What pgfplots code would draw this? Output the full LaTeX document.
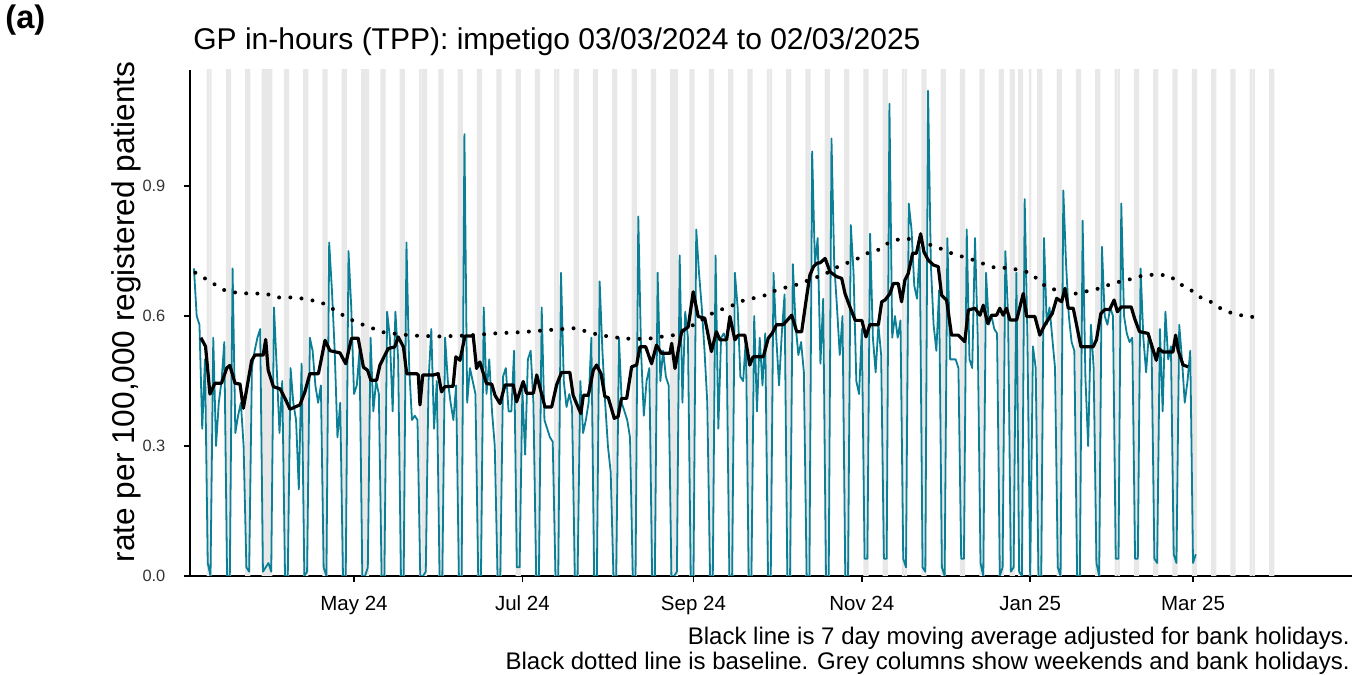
\documentclass[border=0pt]{standalone}
\usepackage{fontspec}
\setmainfont{Liberation Sans}
\usepackage{pgfplots}
\pgfplotsset{compat=1.18}
\definecolor{tealline}{HTML}{0B7F95}
\definecolor{greycol}{HTML}{E8E8E8}
\begin{document}
\begin{tikzpicture}
\useasboundingbox (-95pt,-49.5pt) rectangle (586pt,288pt);
\begin{axis}[
  at={(0,0)}, anchor=south west,
  scale only axis, width=581pt, height=253pt,
  xmin=-0.43, xmax=420.6, ymin=0, ymax=1.168,
  axis x line*=bottom, axis y line*=left,
  axis line style={-, line width=1.3pt, black},
  xtick={59,120,182,243,304,363},
  xticklabels={May 24,Jul 24,Sep 24,Nov 24,Jan 25,Mar 25},
  ytick={0,0.3,0.6,0.9},
  yticklabels={0.0,0.3,0.6,0.9},
  tick align=outside, major tick length=3pt,
  tick style={line width=0.8pt, black},
  xticklabel style={font=\fontsize{10.25}{12}\selectfont, yshift=-3.5pt},
  yticklabel style={font=\fontsize{8.2}{10}\selectfont, xshift=-5.8pt, text=black!80},
  clip=true,
]
% grey columns: weekends and bank holidays
\addplot[ybar, bar width=0.9, fill=greycol, draw=none] coordinates {
(6,1.2)(7,1.2)(13,1.2)(14,1.2)(20,1.2)(21,1.2)(26,1.2)(27,1.2)(28,1.2)(29,1.2)
(34,1.2)(35,1.2)(41,1.2)(42,1.2)(48,1.2)(49,1.2)(55,1.2)(56,1.2)(62,1.2)(63,1.2)(64,1.2)
(69,1.2)(70,1.2)(76,1.2)(77,1.2)(83,1.2)(84,1.2)(85,1.2)(90,1.2)(91,1.2)(97,1.2)(98,1.2)
(104,1.2)(105,1.2)(111,1.2)(112,1.2)(118,1.2)(119,1.2)(125,1.2)(126,1.2)(132,1.2)(133,1.2)
(139,1.2)(140,1.2)(146,1.2)(147,1.2)(153,1.2)(154,1.2)(160,1.2)(161,1.2)(167,1.2)(168,1.2)
(174,1.2)(175,1.2)(176,1.2)(181,1.2)(182,1.2)(188,1.2)(189,1.2)(195,1.2)(196,1.2)(202,1.2)(203,1.2)
(209,1.2)(210,1.2)(216,1.2)(217,1.2)(223,1.2)(224,1.2)(230,1.2)(231,1.2)(237,1.2)(238,1.2)
(244,1.2)(245,1.2)(251,1.2)(252,1.2)(258,1.2)(259,1.2)(265,1.2)(266,1.2)(272,1.2)(273,1.2)
(279,1.2)(280,1.2)(286,1.2)(287,1.2)(293,1.2)(294,1.2)(297,1.2)(298,1.2)(300,1.2)(301,1.2)
(304,1.2)(307,1.2)(308,1.2)(314,1.2)(315,1.2)(321,1.2)(322,1.2)(328,1.2)(329,1.2)
(335,1.2)(336,1.2)(342,1.2)(343,1.2)(349,1.2)(350,1.2)(356,1.2)(357,1.2)(363,1.2)(364,1.2)
(370,1.2)(371,1.2)(377,1.2)(378,1.2)(384,1.2)(385,1.2)(391,1.2)(392,1.2)
};
% daily rate
\addplot[tealline, line width=0.9pt, line join=round, mark=none] coordinates {
(1,0.71)(2,0.60)(3,0.58)(4,0.34)(5,0.50)(6,0.03)(7,0.00)
(8,0.55)(9,0.30)(10,0.40)(11,0.45)(12,0.54)(13,0.00)(14,0.00)
(15,0.71)(16,0.33)(17,0.37)(18,0.40)(19,0.30)(20,0.02)(21,0.01)
(22,0.48)(23,0.52)(24,0.55)(25,0.57)(26,0.01)(27,0.02)(28,0.03)
(29,0.01)(30,0.62)(31,0.48)(32,0.33)(33,0.45)(34,0.00)(35,0.00)
(36,0.48)(37,0.40)(38,0.36)(39,0.20)(40,0.49)(41,0.00)(42,0.01)
(43,0.55)(44,0.52)(45,0.44)(46,0.40)(47,0.44)(48,0.02)(49,0.00)
(50,0.77)(51,0.66)(52,0.52)(53,0.32)(54,0.40)(55,0.00)(56,0.00)
(57,0.75)(58,0.62)(59,0.42)(60,0.44)(61,0.52)(62,0.00)(63,0.00)
(64,0.02)(65,0.55)(66,0.38)(67,0.45)(68,0.42)(69,0.00)(70,0.00)
(71,0.61)(72,0.55)(73,0.38)(74,0.61)(75,0.50)(76,0.00)(77,0.00)
(78,0.77)(79,0.48)(80,0.36)(81,0.37)(82,0.36)(83,0.00)(84,0.00)
(85,0.01)(86,0.45)(87,0.57)(88,0.34)(89,0.45)(90,0.00)(91,0.00)
(92,0.55)(93,0.45)(94,0.40)(95,0.36)(96,0.44)(97,0.00)(98,0.00)
(99,1.02)(100,0.40)(101,0.48)(102,0.45)(103,0.42)(104,0.00)(105,0.00)
(106,0.62)(107,0.42)(108,0.50)(109,0.38)(110,0.30)(111,0.00)(112,0.00)
(113,0.46)(114,0.48)(115,0.38)(116,0.38)(117,0.52)(118,0.02)(119,0.02)
(120,0.43)(121,0.28)(122,0.50)(123,0.52)(124,0.40)(125,0.00)(126,0.00)
(127,0.62)(128,0.36)(129,0.34)(130,0.32)(131,0.31)(132,0.00)(133,0.00)
(134,0.70)(135,0.45)(136,0.39)(137,0.42)(138,0.39)(139,0.00)(140,0.00)
(141,0.45)(142,0.33)(143,0.36)(144,0.40)(145,0.55)(146,0.00)(147,0.00)
(148,0.68)(149,0.52)(150,0.40)(151,0.30)(152,0.24)(153,0.00)(154,0.00)
(155,0.55)(156,0.40)(157,0.38)(158,0.36)(159,0.32)(160,0.00)(161,0.00)
(162,0.83)(163,0.52)(164,0.37)(165,0.45)(166,0.48)(167,0.00)(168,0.00)
(169,0.70)(170,0.45)(171,0.52)(172,0.46)(173,0.44)(174,0.00)(175,0.00)
(176,0.01)(177,0.74)(178,0.40)(179,0.61)(180,0.55)(181,0.00)(182,0.00)
(183,0.80)(184,0.70)(185,0.62)(186,0.52)(187,0.40)(188,0.00)(189,0.00)
(190,0.74)(191,0.34)(192,0.55)(193,0.56)(194,0.54)(195,0.00)(196,0.00)
(197,0.70)(198,0.62)(199,0.46)(200,0.45)(201,0.55)(202,0.00)(203,0.00)
(204,0.60)(205,0.38)(206,0.55)(207,0.44)(208,0.56)(209,0.00)(210,0.00)
(211,0.70)(212,0.55)(213,0.44)(214,0.56)(215,0.65)(216,0.00)(217,0.00)
(218,0.72)(219,0.58)(220,0.51)(221,0.54)(222,0.47)(223,0.00)(224,0.00)
(225,0.98)(226,0.72)(227,0.78)(228,0.49)(229,0.64)(230,0.00)(231,0.00)
(232,1.01)(233,0.72)(234,0.62)(235,0.51)(236,0.60)(237,0.00)(238,0.00)
(239,0.81)(240,0.70)(241,0.45)(242,0.42)(243,0.57)(244,0.04)(245,0.04)
(246,0.79)(247,0.55)(248,0.47)(249,0.58)(250,0.51)(251,0.04)(252,0.04)
(253,1.09)(254,0.55)(255,0.60)(256,0.55)(257,0.59)(258,0.04)(259,0.02)
(260,0.86)(261,0.80)(262,0.67)(263,0.64)(264,0.76)(265,0.02)(266,0.01)
(267,1.12)(268,0.72)(269,0.58)(270,0.52)(271,0.66)(272,0.02)(273,0.00)
(274,0.78)(275,0.50)(276,0.50)(277,0.50)(278,0.48)(279,0.04)(280,0.04)
(281,0.80)(282,0.50)(283,0.48)(284,0.78)(285,0.55)(286,0.03)(287,0.00)
(288,0.70)(289,0.58)(290,0.60)(291,0.57)(292,0.56)(293,0.00)(294,0.02)
(295,0.75)(296,0.60)(297,0.01)(298,0.02)(299,0.70)(300,0.01)(301,0.00)
(302,0.87)(303,0.55)(304,0.00)(305,0.53)(306,0.48)(307,0.00)(308,0.00)
(309,0.78)(310,0.58)(311,0.62)(312,0.55)(313,0.48)(314,0.02)(315,0.00)
(316,0.89)(317,0.72)(318,0.60)(319,0.54)(320,0.52)(321,0.00)(322,0.00)
(323,0.82)(324,0.46)(325,0.30)(326,0.58)(327,0.48)(328,0.03)(329,0.00)
(330,0.76)(331,0.60)(332,0.58)(333,0.62)(334,0.60)(335,0.04)(336,0.04)
(337,0.86)(338,0.60)(339,0.56)(340,0.54)(341,0.55)(342,0.04)(343,0.04)
(344,0.71)(345,0.55)(346,0.47)(347,0.56)(348,0.52)(349,0.04)(350,0.03)
(351,0.57)(352,0.38)(353,0.61)(354,0.50)(355,0.53)(356,0.05)(357,0.03)
(358,0.58)(359,0.50)(360,0.40)(361,0.45)(362,0.52)(363,0.03)(364,0.05)
};
% 7 day moving average
\addplot[black, line width=1.6pt, line join=round, mark=none] coordinates {
(3.5,0.55)(5.2,0.53)(6.8,0.42)(8.6,0.445)(11,0.445)(12.9,0.48)(14,0.486)(15.9,0.445)
(17.7,0.443)(18.9,0.387)(21.9,0.497)(23.1,0.51)(26.1,0.51)(27,0.546)(27.9,0.475)(29.8,0.437)
(32.2,0.432)(34,0.41)(35.8,0.385)(39.4,0.395)(41.2,0.425)(43,0.467)(46.1,0.467)(48.5,0.544)
(50.3,0.52)(53.9,0.515)(56,0.49)(58.1,0.549)(60.5,0.549)(62.4,0.482)(63.9,0.475)(65.1,0.452)
(67.2,0.452)(68.4,0.487)(70.2,0.51)(71.4,0.525)(73.8,0.529)(75,0.552)(76.9,0.529)(78.1,0.467)
(81.7,0.467)(82.3,0.464)(82.9,0.395)(83.9,0.464)(87.7,0.464)(89.5,0.467)(90.7,0.425)(91.9,0.437)
(94.9,0.438)(95.9,0.506)(97.4,0.498)(99.2,0.554)(102.2,0.554)(103.4,0.479)(104.6,0.494)(107,0.444)
(108.9,0.443)(110.1,0.417)(111.9,0.398)(113.7,0.441)(116.7,0.441)(117.9,0.402)(120.3,0.449)(121.5,0.422)
(124,0.422)(125.2,0.464)(128.2,0.39)(130.6,0.39)(132.4,0.441)(134.2,0.47)(137.2,0.47)(138.4,0.417)
(139.5,0.40)(141.2,0.375)(142.1,0.417)(143.9,0.417)(145.7,0.475)(146.9,0.487)(148.5,0.467)(149.9,0.414)
(151.1,0.412)(153.3,0.364)(154.7,0.368)(155.9,0.41)(157.8,0.41)(159.6,0.483)(161.4,0.487)(162.6,0.529)
(164.7,0.529)(166.8,0.49)(168.6,0.533)(170.4,0.514)(173.5,0.514)(174.1,0.537)(175.3,0.479)(177.7,0.564)
(180.1,0.575)(181.9,0.656)(183.7,0.599)(186.1,0.595)(188.5,0.518)(190.3,0.564)(191.6,0.545)(194,0.545)
(195.2,0.599)(197,0.545)(198.2,0.556)(200.6,0.556)(202.4,0.487)(203.6,0.506)(207.3,0.506)(209.1,0.549)
(210.5,0.56)(212.1,0.58)(214.5,0.58)(217.6,0.602)(219.4,0.564)(221.2,0.564)(223,0.645)(224.2,0.695)
(225.5,0.714)(226.7,0.722)(227.9,0.723)(229.7,0.733)(231.5,0.702)(233.9,0.691)(235.7,0.687)(236.9,0.652)
(238.7,0.621)(240.6,0.59)(243,0.59)(244.5,0.552)(245.9,0.58)(249,0.58)(250.2,0.633)(251.4,0.637)
(253.2,0.652)(254.4,0.675)(256.2,0.675)(257.4,0.633)(258.6,0.683)(259.8,0.698)(261.4,0.745)(262.8,0.745)
(264.3,0.79)(265.5,0.748)(267.1,0.729)(268.9,0.718)(270.7,0.714)(271.9,0.648)(273.7,0.637)(275.5,0.556)
(277.9,0.556)(280.3,0.541)(281.6,0.614)(284,0.618)(285.8,0.602)(287,0.625)(288.6,0.583)(290,0.602)
(291.8,0.602)(293,0.618)(294.2,0.602)(295.4,0.618)(296.7,0.591)(299.1,0.591)(301.5,0.652)(302.7,0.599)
(305.7,0.599)(307.5,0.556)(309.3,0.58)(312,0.606)(313.6,0.641)(315.4,0.633)(316.6,0.664)(317.8,0.618)
(319.6,0.618)(322.4,0.529)(326.8,0.529)(328,0.545)(329.6,0.606)(331,0.615)(332.8,0.615)(334.4,0.637)
(335.6,0.61)(337,0.621)(340.6,0.621)(341.8,0.595)(343.6,0.564)(346.7,0.56)(349.7,0.498)(350.6,0.525)
(352.1,0.517)(355.7,0.517)(356.7,0.556)(357.6,0.521)(359.4,0.487)(361.2,0.483)
};
% baseline
\addplot[black, line width=2pt, line cap=round, dash pattern=on 0pt off 5.6pt, mark=none] coordinates {
(1.5,0.70)(4.2,0.69)(8,0.675)(12,0.66)(17,0.653)(22,0.652)(27,0.652)(31,0.643)(36,0.643)(41,0.64)
(47,0.632)(52,0.614)(57,0.594)(63,0.578)(70,0.562)(80,0.555)(90,0.553)(100,0.555)(110,0.56)(120,0.563)
(130,0.568)(139,0.572)(148,0.556)(157,0.548)(165,0.547)(170,0.552)(175,0.556)(183,0.583)(190,0.611)(195,0.621)
(199,0.634)(203,0.64)(208,0.648)(212,0.66)(216,0.667)(221,0.675)(225,0.687)(229,0.694)(233,0.71)(237,0.721)
(241,0.731)(245,0.745)(249.5,0.754)(253,0.771)(257.6,0.779)(262,0.777)(266,0.768)(270,0.76)(275,0.746)(279,0.738)
(283.7,0.729)(287.8,0.719)(292,0.71)(296,0.712)(300,0.706)(304,0.70)(307,0.683)(310,0.666)(314.8,0.658)(319,0.65)
(323.6,0.656)(328,0.662)(332.5,0.672)(336.7,0.68)(341,0.686)(345,0.694)(350,0.696)(354.6,0.693)(358,0.675)(362,0.661)
(365.8,0.643)(369.7,0.632)(373.6,0.615)(377.8,0.605)(382,0.60)(387,0.596)
};
\end{axis}
\node[anchor=base west, font=\bfseries\fontsize{16.3}{19}\selectfont, inner sep=0pt] at (-92.5pt,273.5pt) {(a)};
\node[anchor=base west, font=\fontsize{15}{18}\selectfont, inner sep=0pt] at (1.5pt,263.3pt) {GP in-hours (TPP): impetigo 03/03/2024 to 02/03/2025};
\node[rotate=90, font=\fontsize{15.8}{18}\selectfont, inner sep=0pt] at (-32pt,132pt) {rate per 100,000 registered patients};
\node[anchor=base east, font=\fontsize{12}{14}\selectfont, inner sep=0pt] at (580pt,-34.25pt) {Black line is 7 day moving average adjusted for bank holidays.};
\node[anchor=base east, font=\fontsize{12}{14}\selectfont, inner sep=0pt] at (580pt,-46.75pt) {Black dotted line is baseline. Grey columns show weekends and bank holidays.};
\end{tikzpicture}
\end{document}
